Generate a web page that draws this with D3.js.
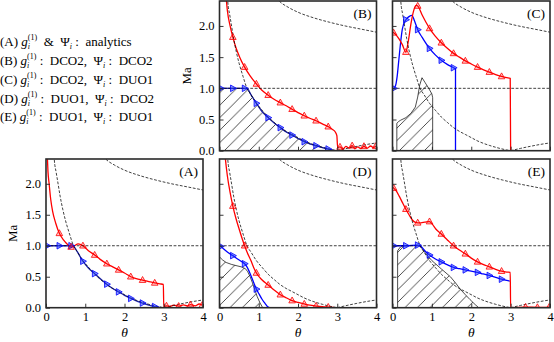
<!DOCTYPE html>
<html>
<head>
<meta charset="utf-8">
<script src="https://cdn.jsdelivr.net/npm/d3@7"></script>
<style>
  body { margin: 0; background: #fff; }
  text { font-family: "Liberation Serif", "DejaVu Serif", serif; white-space: pre; }
</style>
</head>
<body>
<div id="chart"></div>
<script>
// tick values / labels
var thetaTicks = [0, 1, 2, 3, 4];
var maTicks = [0, 0.5, 1, 1.5, 2];
var maTickLabels = ["0.0", "0.5", "1.0", "1.5", "2.0"];

// theta positions where symbols are drawn on the curves
var markerTheta = [0.03, 0.34, 0.64, 0.94, 1.24, 1.55, 1.85, 2.16, 2.46, 2.77, 3.07, 3.38, 3.68, 3.98];

// dashed reference curves (same in every panel)
var guideSonic = [1, 1];
var guideMain = [[0.19,2.6],[0.21,2.4],[0.26,2.18],[0.3,2.03],[0.36,1.8],[0.43,1.58],[0.5,1.4],[0.6,1.19],[0.7,1.0],[0.8,0.9],[0.94,0.76],[1.1,0.64],[1.24,0.54],[1.4,0.45],[1.53,0.38],[1.7,0.31],[1.85,0.26],[2.0,0.21],[2.15,0.16],[2.3,0.12],[2.46,0.085],[2.62,0.055],[2.77,0.03],[2.9,0.012],[3.0,0]];
var guideUpper = [[1.45,2.45],[1.52,2.4],[1.75,2.3],[2.0,2.22],[2.4,2.13],[2.8,2.06],[3.2,2.0],[3.6,1.95],[4.0,1.9]];
var guideLower = [[3.0,0],[3.25,0.037],[3.5,0.07],[3.75,0.1],[4.0,0.125]];

// (A) analytics
var redA = [[0.03,2.5],[0.05,2.2],[0.08,2.0],[0.12,1.75],[0.17,1.55],[0.25,1.36],[0.34,1.2],[0.45,1.09],[0.55,1.02],[0.64,0.98],[0.72,1.0],[0.82,1.03],[0.94,1.0],[1.08,0.92],[1.24,0.85],[1.38,0.78],[1.55,0.71],[1.7,0.66],[1.85,0.61],[2.0,0.56],[2.16,0.5],[2.3,0.47],[2.46,0.445],[2.62,0.42],[2.77,0.4],[2.9,0.385],[2.99,0.375],[3.0,0.02],[3.07,0.03],[3.15,0.02],[3.25,0.04],[3.38,0.025],[3.5,0.045],[3.6,0.03],[3.68,0.05],[3.8,0.03],[3.9,0.06],[3.98,0.04]];
var blueA = [[0,1.0],[0.03,1.0],[0.2,1.0],[0.34,1.0],[0.5,1.0],[0.64,1.0],[0.72,0.98],[0.8,0.9],[0.94,0.75],[1.08,0.64],[1.24,0.55],[1.4,0.46],[1.55,0.38],[1.7,0.31],[1.85,0.255],[2.0,0.2],[2.16,0.15],[2.3,0.11],[2.46,0.075],[2.62,0.04],[2.77,0.018],[2.95,0]];

// (B) DCO2 / DCO2
var redB = [[0.15,2.6],[0.2,2.25],[0.27,2.0],[0.34,1.82],[0.42,1.65],[0.5,1.52],[0.64,1.34],[0.78,1.2],[0.94,1.07],[1.08,0.97],[1.24,0.89],[1.4,0.82],[1.55,0.77],[1.7,0.72],[1.85,0.665],[2.0,0.61],[2.16,0.56],[2.3,0.52],[2.46,0.48],[2.62,0.43],[2.77,0.385],[2.88,0.34],[2.95,0.3],[2.99,0.24],[3.01,0.05],[3.07,0.06],[3.15,0.03],[3.22,0.07],[3.3,0.04],[3.38,0.08],[3.45,0.03],[3.52,0.06],[3.6,0.035],[3.68,0.07],[3.76,0.04],[3.85,0.075],[3.92,0.05],[3.98,0.07]];
var blueB = [[0,0.97],[0.03,1.0],[0.2,1.0],[0.34,1.0],[0.5,1.0],[0.64,1.0],[0.7,1.0],[0.8,0.9],[0.94,0.76],[1.08,0.63],[1.24,0.53],[1.4,0.44],[1.55,0.37],[1.7,0.3],[1.85,0.25],[2.0,0.195],[2.16,0.144],[2.3,0.11],[2.46,0.08],[2.62,0.05],[2.77,0.027],[2.9,0.005],[2.93,0]];
var hatchB = [[0,0],[0,1],[0.7,1],[0.8,0.9],[0.94,0.76],[1.08,0.63],[1.24,0.53],[1.4,0.44],[1.55,0.37],[1.7,0.3],[1.85,0.25],[2.0,0.195],[2.16,0.144],[2.3,0.11],[2.46,0.08],[2.62,0.05],[2.77,0.027],[2.93,0]];

// (C) DCO2 / DUO1
var redC = [[0,1.9],[0.03,1.89],[0.1,1.85],[0.17,1.79],[0.25,1.7],[0.34,1.58],[0.4,1.75],[0.47,2.04],[0.54,2.25],[0.6,2.33],[0.64,2.32],[0.75,2.18],[0.85,2.06],[0.94,1.96],[1.08,1.84],[1.24,1.73],[1.4,1.64],[1.55,1.56],[1.7,1.5],[1.85,1.44],[2.0,1.39],[2.16,1.34],[2.3,1.3],[2.46,1.26],[2.62,1.22],[2.77,1.19],[2.9,1.17],[2.99,1.16],[3.0,0]];
var blueC = [[0,1.0],[0.03,1.0],[0.08,1.05],[0.12,1.2],[0.16,1.45],[0.2,1.7],[0.25,1.95],[0.34,2.1],[0.42,2.15],[0.49,2.17],[0.56,2.08],[0.64,1.94],[0.75,1.82],[0.85,1.72],[0.94,1.64],[1.08,1.54],[1.24,1.45],[1.4,1.38],[1.55,1.33],[1.6,1.31],[1.6,0]];
var hatchC = [[0.11,0],[0.11,0.44],[0.16,0.47],[0.21,0.49],[0.34,0.53],[0.47,0.6],[0.58,0.7],[0.64,0.86],[0.69,1.05],[0.75,1.17],[0.83,1.09],[0.92,1.0],[1.0,0.91],[1.02,0.85],[1.02,0]];

// (D) DUO1 / DCO2
var redD = [[0.12,2.6],[0.15,2.4],[0.2,2.13],[0.27,1.86],[0.34,1.64],[0.42,1.44],[0.5,1.27],[0.57,1.13],[0.64,1.0],[0.72,0.87],[0.8,0.76],[0.87,0.65],[0.94,0.56],[1.08,0.45],[1.24,0.366],[1.4,0.28],[1.55,0.21],[1.7,0.16],[1.85,0.115],[2.0,0.085],[2.16,0.06],[2.3,0.04],[2.46,0.027],[2.62,0.017],[2.77,0.01],[2.9,0.004],[3.0,0]];
var blueD = [[0,1.0],[0.03,0.99],[0.1,0.95],[0.2,0.9],[0.34,0.84],[0.45,0.79],[0.55,0.75],[0.64,0.71],[0.7,0.66],[0.76,0.58],[0.83,0.47],[0.88,0.39],[0.94,0.3],[1.0,0.23],[1.08,0.14],[1.16,0.07],[1.22,0.02],[1.27,0]];
var hatchD = [[0,0],[0,0.82],[0.08,0.77],[0.17,0.73],[0.3,0.7],[0.42,0.68],[0.55,0.66],[0.66,0.63],[0.72,0.58],[0.78,0.5],[0.84,0.4],[0.9,0.29],[0.96,0.18],[1.03,0.08],[1.1,0]];

// (E) DUO1 / DUO1
var redE = [[0,1.95],[0.03,1.93],[0.1,1.88],[0.17,1.8],[0.25,1.7],[0.34,1.59],[0.42,1.5],[0.5,1.42],[0.57,1.38],[0.64,1.37],[0.72,1.37],[0.82,1.38],[0.94,1.39],[1.02,1.34],[1.1,1.27],[1.24,1.19],[1.4,1.09],[1.55,1.0],[1.7,0.93],[1.85,0.87],[2.0,0.8],[2.16,0.74],[2.3,0.7],[2.46,0.66],[2.62,0.62],[2.77,0.59],[2.9,0.575],[2.99,0.57],[3.0,0],[3.38,0.01],[3.68,0.005],[3.98,0.01]];
var blueE = [[0,1.0],[0.03,1.0],[0.34,1.0],[0.64,1.01],[0.72,0.99],[0.82,0.92],[0.94,0.85],[1.08,0.79],[1.24,0.74],[1.4,0.69],[1.55,0.65],[1.7,0.63],[1.85,0.61],[2.0,0.59],[2.16,0.57],[2.3,0.545],[2.46,0.52],[2.62,0.49],[2.77,0.46],[2.9,0.44],[2.98,0.43]];
var hatchE = [[0.13,0],[0.13,0.92],[0.2,0.98],[0.3,1.0],[0.7,1.0],[0.85,0.87],[1.0,0.76],[1.25,0.62],[1.47,0.5],[1.6,0.4],[1.72,0.3],[1.85,0.21],[1.97,0.13],[2.1,0.05],[2.19,0]];

// legend rows (top left)
var legendIds = ["(A) ", "(B) ", "(C) ", "(D) ", "(E) "];
var legendG = ["  &  ", " :  DCO2,  ", " :  DCO2,  ", " :  DUO1,  ", " :  DUO1,  "];
var legendPsi = [" :  analytics", " :  DCO2", " :  DUO1", " :  DCO2", " :  DUO1"];

var svgWidth = 554, svgHeight = 342;
var svg = d3.select("#chart").append("svg")
  .attr("width", svgWidth)
  .attr("height", svgHeight);

// hatch pattern
svg.append("defs").append("pattern")
  .attr("id", "hatch")
  .attr("patternUnits", "userSpaceOnUse")
  .attr("width", 12.5).attr("height", 12.5)
  .append("path")
  .attr("d", "M0,12.5 L12.5,0 M-3,3 L3,-3 M9.5,15.5 L15.5,9.5")
  .attr("stroke", "#000")
  .attr("stroke-width", 0.7);

var panels = [
  { id: "A", x0: 46, x1: 203, y0: 159, y1: 307.7, red: redA, blue: blueA, hatch: null, yLab: true, xLab: true, blueCol: "#1c22b0" },
  { id: "B", x0: 219.5, x1: 376.5, y0: 1, y1: 150.7, red: redB, blue: blueB, hatch: hatchB, yLab: true, xLab: false, blueCol: "#1c22b0" },
  { id: "C", x0: 392.5, x1: 550, y0: 1, y1: 150.7, red: redC, blue: blueC, hatch: hatchC, yLab: false, xLab: false, blueCol: "#0000ff" },
  { id: "D", x0: 219.5, x1: 376.5, y0: 159, y1: 307.7, red: redD, blue: blueD, hatch: hatchD, yLab: false, xLab: true, blueCol: "#0000ff" },
  { id: "E", x0: 392.5, x1: 550, y0: 159, y1: 307.7, red: redE, blue: blueE, hatch: hatchE, yLab: false, xLab: true, blueCol: "#0000ff" }
];

function isMarker(d) {
  return markerTheta.some(function(t) { return Math.abs(t - d[0]) < 1e-9; });
}

panels.forEach(function(p) {
  var x = d3.scaleLinear().domain([0, 4]).range([p.x0, p.x1]);
  var y = d3.scaleLinear().domain([0, 2.4]).range([p.y1, p.y0]);

  var g = svg.append("g");

  g.append("clipPath").attr("id", "clip" + p.id)
    .append("rect")
    .attr("x", p.x0).attr("y", p.y0)
    .attr("width", p.x1 - p.x0).attr("height", p.y1 - p.y0);

  var plot = g.append("g").attr("clip-path", "url(#clip" + p.id + ")");

  var line = d3.line()
    .x(d => x(d[0]))
    .y(d => y(d[1]))
    .curve(d3.curveMonotoneX);

  // hatched region
  if (p.hatch) {
    plot.append("path")
      .attr("d", d3.line().x(d => x(d[0])).y(d => y(d[1]))(p.hatch) + "Z")
      .attr("fill", "url(#hatch)")
      .attr("stroke", "#000")
      .attr("stroke-width", 0.7);
  }

  // blue and red curves
  plot.append("path")
    .datum(p.blue)
    .attr("d", line)
    .attr("fill", "none")
    .attr("stroke", p.blueCol)
    .attr("stroke-width", 1.3);

  plot.append("path")
    .datum(p.red)
    .attr("d", line)
    .attr("fill", "none")
    .attr("stroke", "#ff0000")
    .attr("stroke-width", 1.3);

  // dashed guides
  var dashed = function(sel) {
    sel.attr("fill", "none").attr("stroke", "#000")
      .attr("stroke-width", 0.75).attr("stroke-dasharray", "2.8,1.6");
  };
  plot.append("path").datum(guideMain).attr("d", line).call(dashed);
  plot.append("path").datum(guideUpper).attr("d", line).call(dashed);
  plot.append("path").datum(guideLower).attr("d", line).call(dashed);
  plot.append("line")
    .attr("x1", x(0)).attr("x2", x(4))
    .attr("y1", y(guideSonic[0])).attr("y2", y(guideSonic[1]))
    .call(dashed);

  // markers
  plot.selectAll(".mb")
    .data(p.blue.filter(isMarker))
    .enter().append("path")
    .attr("transform", d => `translate(${x(d[0])},${y(d[1])})`)
    .attr("d", "M3.6,0 L-2.3,-3.3 L-2.3,3.3 Z")
    .attr("fill", "rgba(40,70,255,0.55)")
    .attr("stroke", "#0000ff")
    .attr("stroke-width", 0.8);

  plot.selectAll(".mr")
    .data(p.red.filter(isMarker))
    .enter().append("path")
    .attr("transform", d => `translate(${x(d[0])},${y(d[1])})`)
    .attr("d", "M0,-3.6 L3.3,2.3 L-3.3,2.3 Z")
    .attr("fill", "rgba(255,0,0,0.2)")
    .attr("stroke", "#ff0000")
    .attr("stroke-width", 0.8);

  // axes with inward ticks
  var xAxis = d3.axisBottom(x).tickValues(thetaTicks)
    .tickSizeInner(-4).tickSizeOuter(0).tickPadding(4)
    .tickFormat(p.xLab ? d3.format("d") : "");
  var yAxis = d3.axisLeft(y).tickValues(maTicks)
    .tickSizeInner(-4).tickSizeOuter(0).tickPadding(5)
    .tickFormat(p.yLab ? (d, i) => maTickLabels[i] : "");

  var gx = g.append("g").attr("transform", `translate(0,${p.y1})`).call(xAxis);
  var gy = g.append("g").attr("transform", `translate(${p.x0},0)`).call(yAxis);
  [gx, gy].forEach(function(a) {
    a.select(".domain").remove();
    a.attr("font-family", null).attr("font-size", null);
    a.selectAll(".tick line").attr("stroke", "#222").attr("stroke-width", 0.9);
    a.selectAll(".tick text").style("font-size", "12.5px").attr("fill", "#000");
  });

  // frame
  g.append("rect")
    .attr("x", p.x0).attr("y", p.y0)
    .attr("width", p.x1 - p.x0).attr("height", p.y1 - p.y0)
    .attr("fill", "none")
    .attr("stroke", "#2a2a2a")
    .attr("stroke-width", 1.6);

  // panel tag
  g.append("text")
    .attr("x", p.x1 - 5).attr("y", p.y0 + 17)
    .attr("text-anchor", "end")
    .style("font-size", "13.5px")
    .text("(" + p.id + ")");

  // axis titles
  if (p.yLab) {
    g.append("text")
      .attr("transform", `translate(${p.x0 - 29},${(p.y0 + p.y1) / 2}) rotate(-90)`)
      .attr("text-anchor", "middle")
      .style("font-size", "13px")
      .text("Ma");
  }
  if (p.xLab) {
    g.append("text")
      .attr("x", (p.x0 + p.x1) / 2).attr("y", 336.5)
      .attr("text-anchor", "middle")
      .style("font-size", "13.5px")
      .style("font-style", "italic")
      .text("θ");
  }
});

// legend text: (X) g_i^(1) : ..., Psi_i : ...
function writeRow(x, yb, pieces) {
  var cx = x;
  pieces.forEach(function(pc) {
    var t = svg.append("text")
      .attr("x", cx).attr("y", yb + (pc.dy || 0))
      .style("font-size", (pc.small ? 8 : 13) + "px")
      .style("font-style", pc.it ? "italic" : "normal")
      .text(pc.s);
    if (!pc.stack) cx += t.node().getComputedTextLength();
  });
}

var rowBase = [46, 65, 83.5, 102.5, 121];
legendIds.forEach(function(id, i) {
  writeRow(0, rowBase[i], [
    { s: id },
    { s: "g", it: true },
    { s: "i", it: true, small: true, dy: 3.4, stack: true },
    { s: "(1)", small: true, dy: -5.6 },
    { s: legendG[i] },
    { s: "Ψ" },
    { s: "i", it: true, small: true, dy: 3.4 },
    { s: legendPsi[i] }
  ]);
});
</script>
</body>
</html>
